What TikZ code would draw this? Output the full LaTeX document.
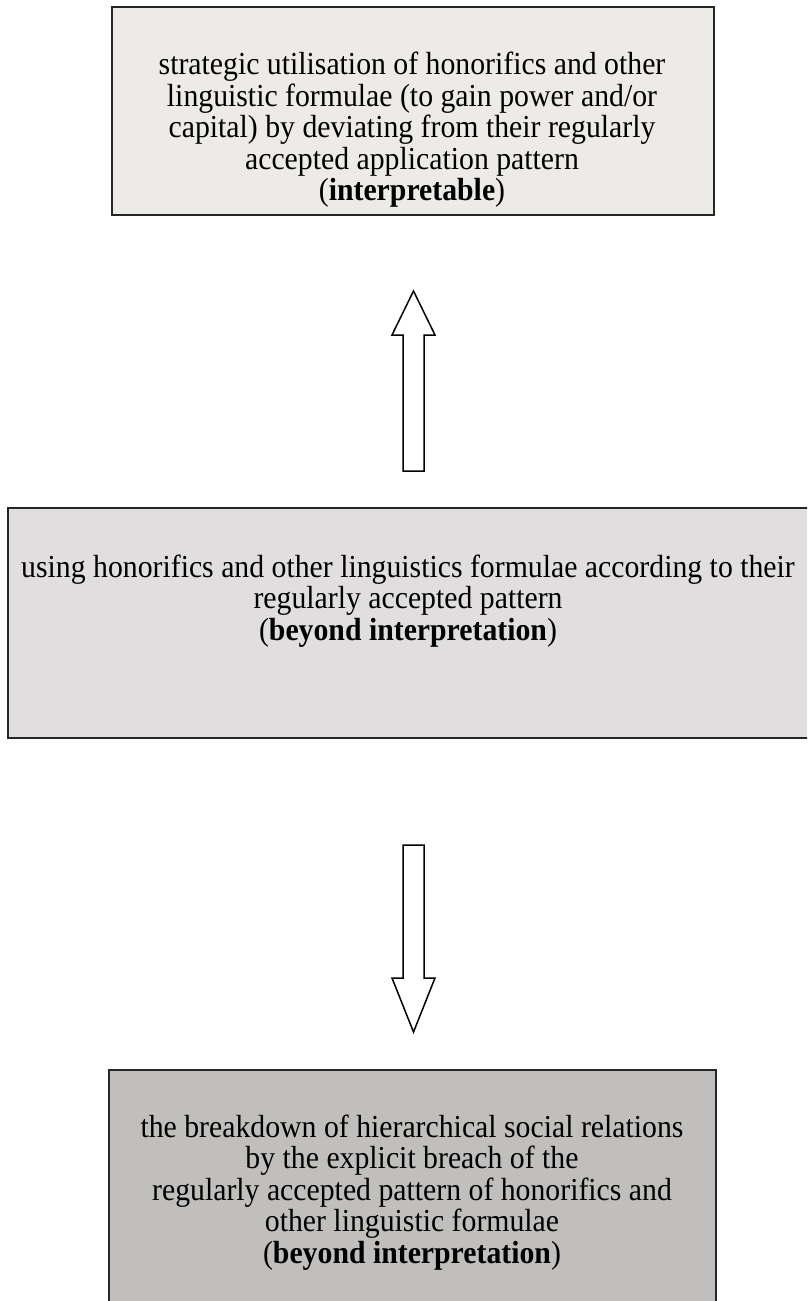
\documentclass[tikz,border=0pt]{standalone}
\usepackage{fontspec}
\setmainfont{Liberation Serif}[FakeStretch=0.93]
\definecolor{topfill}{HTML}{EDEBE8}
\definecolor{midfill}{HTML}{E0DEDF}
\definecolor{botfill}{HTML}{C0BFBD}
\setlength{\lineskiplimit}{-100pt}
\newcommand{\tightlines}{\fontsize{32}{31.5}\selectfont\setlength{\lineskiplimit}{-100pt}}
\begin{document}
\begin{tikzpicture}[x=1pt,y=-1pt,
  boxst/.style={draw=black!85,line width=1.6pt,rectangle,inner sep=0pt,anchor=north west},
  txt/.style={align=center,font=\tightlines,inner sep=0pt,text=black},
  arr/.style={draw=black,fill=white,line width=1.5pt,line join=miter}]
\useasboundingbox (0,0) rectangle (807,1301);
\clip (0,0) rectangle (807,1301);
\node[boxst,fill=topfill,minimum width=602pt,minimum height=208pt] (top) at (111,6) {};
\node[boxst,fill=midfill,minimum width=804pt,minimum height=230pt] (mid) at (7,507) {};
\node[boxst,fill=botfill,minimum width=607pt,minimum height=240pt] (bot) at (108,1069) {};
\node[txt] (toptext) at (412,130) {strategic utilisation of honorifics and other\\linguistic formulae (to gain power and/or\\capital) by deviating from their regularly\\accepted application pattern\\(\textbf{interpretable})};
\node[txt] (midtext) at (408,601) {using honorifics and other linguistics formulae according to their\\regularly accepted pattern\\(\textbf{beyond interpretation})};
\node[txt] (bottext) at (412,1192.5) {the breakdown of hierarchical social relations\\by the explicit breach of the\\regularly accepted pattern of honorifics and\\other linguistic formulae\\(\textbf{beyond interpretation})};
\draw[arr] (403,471) -- (403,335) -- (392,335) -- (413.5,291) -- (435,335) -- (424,335) -- (424,471) -- cycle;
\draw[arr] (403,845) -- (403,978) -- (392,978) -- (413.5,1032) -- (435,978) -- (424,978) -- (424,845) -- cycle;
\end{tikzpicture}
\end{document}
